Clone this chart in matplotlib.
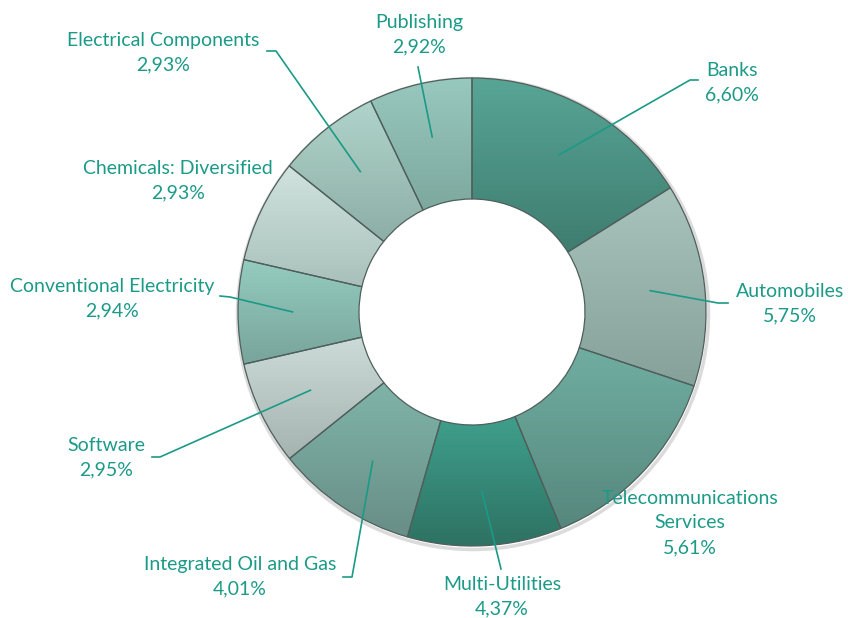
import numpy as np
import matplotlib.pyplot as plt
from matplotlib.colors import to_rgb
from matplotlib.patches import Circle

# sector weights, clockwise from 12 o'clock
sectors = ["Banks", "Automobiles", "Telecommunications\nServices", "Multi-Utilities",
           "Integrated Oil and Gas", "Software", "Conventional Electricity",
           "Chemicals: Diversified", "Electrical Components", "Publishing"]
weights = [6.60, 5.75, 5.61, 4.37, 4.01, 2.95, 2.94, 2.93, 2.93, 2.92]

# gradient colours per slice (top, bottom)
tops = ["#58a596", "#a9c4bd", "#70aea1", "#3f9f8c", "#80b4a9",
        "#cbdbd7", "#95ccc0", "#d0e3de", "#b0d4cb", "#98c9be"]
bottoms = ["#3e7d70", "#86a19a", "#56877d", "#2e7263", "#688e86",
           "#a5b3b0", "#78a49b", "#a9c0ba", "#8daea6", "#7da89e"]

# label centres and leader-line bends (pixel coords, y down)
label_pos = [(732, 83), (790, 304), (690, 523), (502, 597), (240, 577),
             (106, 458), (112, 299), (178, 181), (163, 53), (419, 35)]
leaders = [[(690, 80), (698, 80)], [(718, 303), (728, 303)], None, [(501, 569)],
           [(352, 577), (343, 577)], [(160, 457), (152, 457)],
           [(230, 297), (220, 296)], None, [(276, 51), (267, 51)], [(418, 67)]]

W, H = 848, 618
cx, cy = 472, H - 312
R_OUT, R_IN = 234, 113
TEXT = "#1b9a87"

fig = plt.figure(figsize=(W / 100, H / 100), dpi=100)
ax = fig.add_axes([0, 0, 1, 1])

# soft shadow around the ring
ax.add_patch(Circle((cx + 1, cy - 2), R_OUT + 1.5, fc="none", ec="#9a9a9a", lw=2.5, alpha=0.35, zorder=0))

wedges, _ = ax.pie(weights, startangle=90, counterclock=False, center=(cx, cy), radius=R_OUT,
                   wedgeprops=dict(width=R_OUT - R_IN, edgecolor="#4f5f5c", linewidth=0.9))

grad = np.linspace(0, 1, 256)[:, None, None]
for w, c1, c2 in zip(wedges, tops, bottoms):
    ext = w.get_path().get_extents()
    img = (1 - grad) * np.array(to_rgb(c1)) + grad * np.array(to_rgb(c2))
    img = np.repeat(img, 2, axis=1)
    im = ax.imshow(img, extent=(ext.x0, ext.x1, ext.y0, ext.y1), origin="upper",
                   aspect="auto", zorder=1, interpolation="bilinear")
    im.set_clip_path(w)
    w.set_facecolor("none")
    w.set_zorder(2)

for w, name, val, pos, lead in zip(wedges, sectors, weights, label_pos, leaders):
    txt = name + "\n" + f"{val:.2f}".replace(".", ",") + "%"
    ax.text(pos[0], H - pos[1], txt, ha="center", va="center", color=TEXT,
            fontsize=14, family="Lato", linespacing=1.55, zorder=4)
    if lead is None:
        continue
    mid = np.deg2rad((w.theta1 + w.theta2) / 2)
    r = (R_OUT + R_IN) / 2 + 6
    xs = [cx + r * np.cos(mid)] + [p[0] for p in lead]
    ys = [cy + r * np.sin(mid)] + [H - p[1] for p in lead]
    ax.plot(xs, ys, color=TEXT, lw=1.2, zorder=3)

ax.set_xlim(0, W)
ax.set_ylim(0, H)
ax.set_aspect("equal")
ax.axis("off")

fig.savefig("out.png", dpi=100)
